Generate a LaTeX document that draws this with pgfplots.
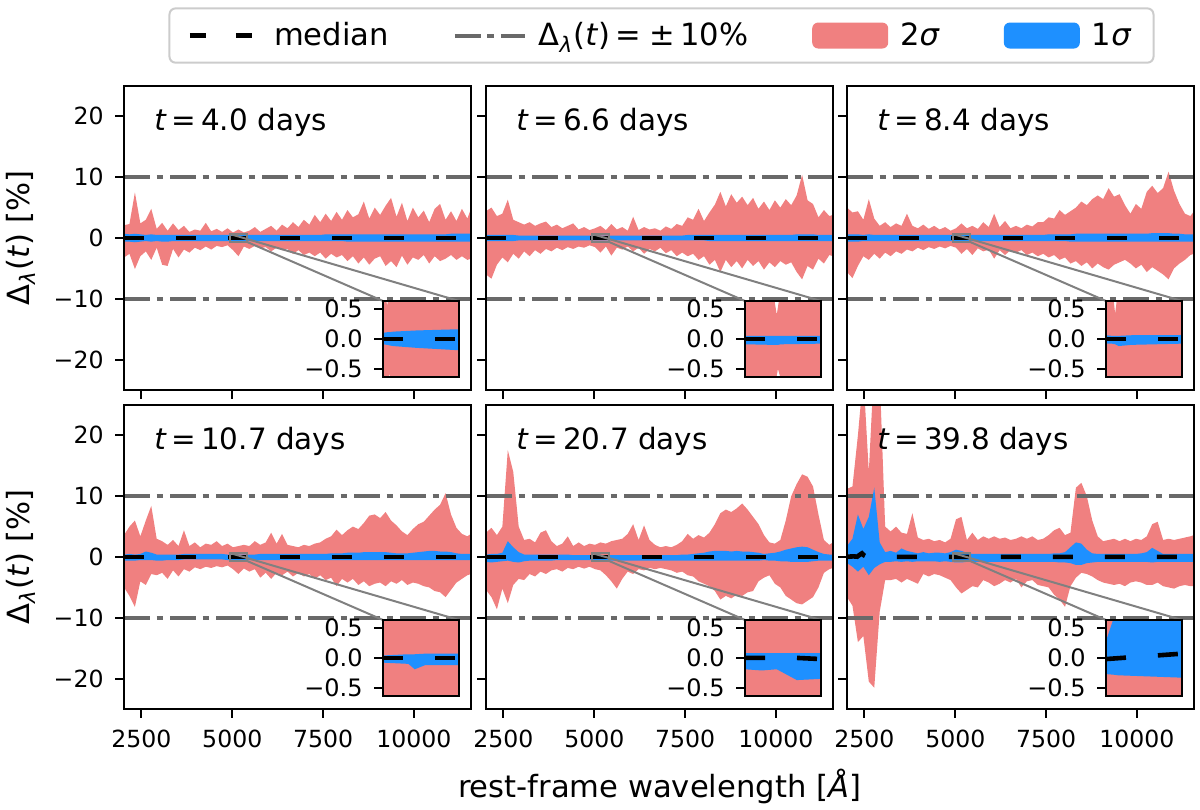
\documentclass[border=0pt]{standalone}
\usepackage{fontspec}
\setmainfont{DejaVu Sans}
\usepackage{pgfplots}
\pgfplotsset{compat=1.18}
\usepackage{pgfplotstable}
\usepgfplotslibrary{fillbetween}

\definecolor{ctwo}{RGB}{240,128,128}
\definecolor{cone}{RGB}{30,144,255}
\definecolor{dg}{RGB}{105,105,105}
\definecolor{cg}{RGB}{128,128,128}
\definecolor{lg}{RGB}{204,204,204}

% ---------------- main panel data: x, 2sigma upper/lower, 1sigma upper/lower
\pgfplotstableread{
x u2 l2 u1 l1
2020 2.1 -3.2 0.7 -0.6
2170 2.3 -2.6 0.6 -0.6
2320 7.5 -5.1 0.7 -0.7
2470 2.4 -3.0 0.6 -0.6
2620 3.0 -2.2 0.5 -0.5
2770 4.8 -3.6 0.6 -0.6
2920 1.5 -1.6 0.5 -0.5
3070 2.5 -4.4 0.5 -0.6
3220 1.2 -4.6 0.5 -0.6
3370 2.4 -1.8 0.5 -0.5
3520 1.3 -3.2 0.5 -0.5
3670 2.0 -1.9 0.5 -0.5
3820 1.0 -2.4 0.5 -0.5
3970 1.4 -1.6 0.5 -0.5
4120 1.2 -2.0 0.5 -0.5
4270 2.5 -1.4 0.5 -0.5
4420 1.1 -1.9 0.5 -0.5
4570 1.5 -1.3 0.5 -0.5
4720 1.0 -1.5 0.5 -0.5
4870 1.6 -1.2 0.5 -0.5
5020 0.9 -2.0 0.5 -0.5
5170 1.4 -3.0 0.5 -0.5
5320 0.9 -1.4 0.5 -0.5
5470 1.2 -1.8 0.5 -0.5
5620 1.8 -1.3 0.5 -0.5
5770 1.0 -1.7 0.5 -0.5
5920 1.5 -1.5 0.5 -0.5
6070 2.0 -2.2 0.5 -0.5
6220 1.2 -1.6 0.5 -0.5
6370 2.2 -2.0 0.5 -0.5
6520 1.6 -1.8 0.5 -0.5
6670 2.6 -2.6 0.5 -0.5
6820 1.8 -2.0 0.5 -0.5
6970 3.0 -2.8 0.5 -0.5
7120 2.2 -2.4 0.5 -0.5
7270 3.8 -3.0 0.5 -0.5
7420 2.6 -2.4 0.5 -0.5
7570 4.0 -3.4 0.6 -0.5
7720 2.8 -2.6 0.6 -0.5
7870 4.3 -3.2 0.6 -0.5
8020 3.0 -2.8 0.6 -0.5
8170 4.6 -3.8 0.6 -0.6
8320 3.4 -3.0 0.6 -0.6
8470 3.9 -4.2 0.6 -0.6
8620 6.0 -3.2 0.6 -0.6
8770 3.2 -4.4 0.6 -0.6
8920 5.0 -3.4 0.6 -0.6
9070 3.8 -3.0 0.6 -0.6
9220 5.3 -4.6 0.6 -0.6
9370 6.6 -3.8 0.6 -0.6
9520 3.5 -4.8 0.6 -0.6
9670 5.8 -2.9 0.6 -0.6
9820 2.8 -4.4 0.6 -0.6
9970 5.0 -3.2 0.6 -0.6
10120 3.4 -3.6 0.6 -0.6
10270 4.5 -2.8 0.6 -0.6
10420 2.6 -4.2 0.6 -0.6
10570 4.8 -3.0 0.6 -0.6
10720 5.6 -3.8 0.6 -0.6
10870 3.0 -3.4 0.6 -0.6
11020 4.4 -2.8 0.7 -0.6
11170 2.8 -3.6 0.7 -0.6
11320 4.8 -3.0 0.7 -0.6
11470 3.2 -3.6 0.7 -0.6
11570 4.8 -3.4 0.7 -0.6
}\tA

\pgfplotstableread{
x u2 l2 u1 l1
2020 4.4 -6.0 0.5 -0.5
2170 5.0 -6.7 0.5 -0.5
2320 3.6 -4.4 0.5 -0.5
2470 4.0 -3.2 0.5 -0.5
2620 6.3 -4.0 0.5 -0.5
2770 3.0 -2.6 0.5 -0.5
2920 2.6 -3.4 0.4 -0.4
3070 2.2 -2.2 0.4 -0.4
3220 2.6 -3.0 0.4 -0.4
3370 2.0 -2.0 0.4 -0.4
3520 2.4 -2.6 0.4 -0.4
3670 2.7 -1.8 0.4 -0.4
3820 1.8 -2.2 0.4 -0.4
3970 2.2 -1.6 0.4 -0.4
4120 1.6 -2.0 0.4 -0.4
4270 2.0 -1.5 0.4 -0.4
4420 2.4 -1.8 0.4 -0.4
4570 1.4 -1.4 0.4 -0.4
4720 1.8 -1.6 0.4 -0.4
4870 1.3 -1.2 0.4 -0.4
5020 1.6 -1.5 0.4 -0.4
5170 2.0 -2.4 0.4 -0.4
5320 1.3 -1.4 0.4 -0.4
5470 2.3 -2.9 0.4 -0.4
5620 1.4 -1.6 0.4 -0.4
5770 1.8 -1.9 0.4 -0.4
5920 1.2 -1.4 0.4 -0.4
6070 3.5 -2.2 0.4 -0.4
6220 1.3 -1.6 0.4 -0.4
6370 1.8 -2.6 0.4 -0.4
6520 1.4 -1.8 0.4 -0.4
6670 1.6 -2.2 0.4 -0.4
6820 1.2 -1.6 0.4 -0.4
6970 1.9 -2.5 0.4 -0.4
7120 1.5 -2.0 0.4 -0.4
7270 2.3 -3.0 0.4 -0.4
7420 2.0 -2.4 0.4 -0.4
7570 3.4 -3.0 0.5 -0.4
7720 3.0 -2.6 0.5 -0.4
7870 4.8 -3.6 0.5 -0.4
8020 2.8 -3.0 0.5 -0.4
8170 4.2 -4.4 0.5 -0.5
8320 5.5 -3.6 0.5 -0.5
8470 7.6 -5.6 0.5 -0.5
8620 5.2 -3.6 0.5 -0.5
8770 7.2 -4.8 0.5 -0.5
8920 5.8 -3.8 0.5 -0.5
9070 6.8 -5.0 0.5 -0.5
9220 5.4 -3.6 0.5 -0.5
9370 6.6 -4.6 0.5 -0.5
9520 4.8 -3.8 0.5 -0.5
9670 6.0 -5.2 0.5 -0.5
9820 4.6 -4.0 0.5 -0.5
9970 6.2 -4.8 0.5 -0.5
10120 5.0 -3.8 0.5 -0.5
10270 6.4 -4.4 0.5 -0.5
10420 5.4 -4.0 0.5 -0.5
10570 7.0 -5.6 0.6 -0.5
10720 10.4 -6.8 0.6 -0.5
10870 6.2 -4.6 0.6 -0.5
11020 5.6 -5.2 0.6 -0.5
11170 3.4 -3.4 0.5 -0.5
11320 4.6 -4.2 0.5 -0.5
11470 3.6 -2.8 0.5 -0.5
11570 3.8 -3.0 0.5 -0.5
}\tB

\pgfplotstableread{
x u2 l2 u1 l1
2020 5.0 -5.6 0.6 -0.6
2170 4.2 -6.6 0.6 -0.6
2320 4.4 -4.6 0.6 -0.6
2470 3.0 -3.0 0.5 -0.5
2620 6.4 -3.6 0.6 -0.5
2770 3.2 -2.6 0.5 -0.5
2920 2.0 -3.4 0.5 -0.5
3070 2.6 -2.4 0.5 -0.5
3220 1.8 -3.0 0.5 -0.5
3370 2.4 -2.2 0.5 -0.5
3520 2.0 -2.6 0.5 -0.5
3670 4.0 -1.9 0.5 -0.5
3820 2.0 -2.2 0.5 -0.5
3970 1.6 -1.6 0.5 -0.5
4120 2.2 -2.0 0.5 -0.5
4270 1.5 -1.5 0.5 -0.5
4420 2.0 -1.8 0.5 -0.5
4570 1.4 -1.4 0.5 -0.5
4720 1.8 -1.7 0.5 -0.5
4870 1.2 -1.3 0.5 -0.5
5020 1.6 -1.6 0.5 -0.5
5170 2.4 -2.6 0.5 -0.5
5320 1.6 -1.8 0.5 -0.5
5470 2.0 -2.8 0.5 -0.5
5620 1.5 -1.7 0.5 -0.5
5770 2.6 -2.2 0.5 -0.5
5920 1.8 -1.9 0.5 -0.5
6070 4.0 -3.4 0.5 -0.5
6220 1.8 -2.0 0.5 -0.5
6370 2.8 -2.8 0.5 -0.5
6520 1.6 -2.0 0.5 -0.5
6670 2.0 -2.4 0.5 -0.5
6820 1.6 -2.0 0.5 -0.5
6970 2.2 -2.8 0.5 -0.5
7120 1.9 -2.4 0.5 -0.5
7270 2.6 -3.0 0.5 -0.5
7420 2.6 -2.6 0.5 -0.5
7570 3.4 -3.2 0.6 -0.5
7720 3.2 -2.8 0.6 -0.5
7870 4.6 -3.6 0.6 -0.5
8020 3.8 -3.2 0.6 -0.5
8170 4.4 -4.2 0.6 -0.6
8320 5.0 -3.8 0.7 -0.6
8470 6.0 -4.6 0.7 -0.6
8620 5.4 -4.0 0.7 -0.6
8770 6.4 -5.0 0.7 -0.6
8920 7.0 -4.2 0.7 -0.6
9070 6.4 -4.8 0.7 -0.6
9220 8.2 -5.2 0.7 -0.6
9370 6.8 -4.4 0.7 -0.6
9520 7.2 -4.0 0.7 -0.6
9670 5.4 -3.6 0.7 -0.6
9820 4.0 -4.2 0.7 -0.6
9970 5.6 -5.0 0.7 -0.6
10120 4.8 -4.4 0.7 -0.6
10270 7.6 -5.6 0.7 -0.6
10420 8.6 -4.8 0.8 -0.6
10570 7.4 -5.4 0.8 -0.6
10720 8.2 -6.0 0.8 -0.6
10870 10.9 -6.8 0.8 -0.6
11020 7.8 -5.0 0.7 -0.6
11170 5.6 -4.2 0.7 -0.6
11320 4.0 -3.6 0.6 -0.6
11470 3.6 -2.8 0.6 -0.6
11570 4.4 -2.6 0.6 -0.6
}\tC

\pgfplotstableread{
x u2 l2 u1 l1
2020 3.6 -5.0 0.4 -0.6
2170 5.0 -6.4 0.5 -0.6
2320 6.0 -8.2 0.4 -0.6
2470 3.4 -4.0 0.5 -0.5
2620 6.0 -4.6 0.9 -0.5
2770 8.4 -2.8 0.7 -0.5
2920 3.0 -3.0 0.4 -0.6
3070 2.6 -2.6 0.4 -0.6
3220 2.0 -3.6 0.4 -0.5
3370 2.8 -2.2 0.4 -0.5
3520 1.8 -3.2 0.4 -0.5
3670 4.4 -2.0 0.5 -0.4
3820 1.8 -2.4 0.5 -0.4
3970 2.4 -1.7 0.5 -0.4
4120 1.6 -2.0 0.5 -0.4
4270 2.2 -1.6 0.5 -0.4
4420 2.0 -1.8 0.5 -0.4
4570 2.6 -1.5 0.5 -0.4
4720 1.8 -1.7 0.5 -0.4
4870 2.2 -1.4 0.4 -0.5
5020 1.6 -2.0 0.4 -0.5
5170 1.8 -2.8 0.4 -0.5
5320 2.0 -1.9 0.4 -0.5
5470 1.8 -2.4 0.4 -0.5
5620 2.6 -2.0 0.4 -0.5
5770 2.0 -3.4 0.5 -0.5
5920 2.4 -2.6 0.5 -0.5
6070 4.0 -3.6 0.5 -0.5
6220 2.2 -2.6 0.5 -0.5
6370 3.8 -3.0 0.5 -0.5
6520 2.0 -2.4 0.5 -0.5
6670 1.8 -3.2 0.5 -0.5
6820 1.6 -2.6 0.5 -0.5
6970 2.0 -3.2 0.5 -0.5
7120 1.8 -2.8 0.5 -0.5
7270 2.2 -3.6 0.5 -0.5
7420 2.4 -3.0 0.5 -0.5
7570 3.0 -3.8 0.5 -0.5
7720 3.4 -3.4 0.6 -0.5
7870 4.5 -4.8 0.6 -0.5
8020 3.6 -3.6 0.6 -0.5
8170 4.4 -4.2 0.7 -0.5
8320 5.0 -3.6 0.7 -0.5
8470 4.6 -4.6 0.7 -0.5
8620 5.6 -4.0 0.8 -0.5
8770 6.8 -4.8 0.8 -0.5
8920 7.0 -4.4 0.8 -0.5
9070 6.4 -4.2 0.8 -0.5
9220 7.4 -4.8 0.8 -0.5
9370 6.0 -4.0 0.7 -0.5
9520 5.2 -4.4 0.6 -0.5
9670 4.2 -3.8 0.6 -0.5
9820 3.6 -4.6 0.6 -0.5
9970 4.6 -4.2 0.7 -0.5
10120 5.4 -4.4 0.8 -0.5
10270 5.8 -4.8 0.9 -0.5
10420 6.8 -5.0 1.0 -0.5
10570 7.8 -5.6 1.0 -0.5
10720 8.6 -5.8 0.9 -0.5
10870 10.5 -6.6 0.9 -0.5
11020 7.0 -5.4 0.8 -0.5
11170 4.8 -4.2 0.6 -0.5
11320 3.8 -3.6 0.5 -0.5
11470 3.4 -3.0 0.5 -0.5
11570 3.8 -2.8 0.5 -0.5
}\tD

\pgfplotstableread{
x u2 l2 u1 l1
2020 4.0 -5.4 0.4 -0.8
2170 4.8 -6.6 0.5 -0.9
2320 3.6 -8.6 0.5 -0.8
2470 5.0 -5.2 0.7 -0.7
2620 17.6 -7.6 2.6 -0.6
2770 14.0 -4.6 1.6 -0.8
2920 5.0 -3.6 0.8 -0.9
3070 2.8 -3.8 0.4 -0.7
3220 3.0 -2.8 0.4 -0.6
3370 2.4 -3.2 0.4 -0.6
3520 4.0 -2.4 0.4 -0.6
3670 4.4 -2.8 0.4 -0.6
3820 2.6 -2.2 0.4 -0.6
3970 1.8 -2.0 0.4 -0.5
4120 2.2 -2.4 0.4 -0.5
4270 3.4 -1.8 0.4 -0.5
4420 1.8 -2.0 0.3 -0.5
4570 2.4 -1.6 0.3 -0.5
4720 1.8 -1.9 0.3 -0.5
4870 2.2 -1.6 0.3 -0.5
5020 2.0 -2.0 0.3 -0.5
5170 2.4 -2.2 0.3 -0.6
5320 2.2 -3.0 0.3 -0.6
5470 2.6 -4.0 0.3 -0.6
5620 2.8 -5.2 0.3 -0.6
5770 3.0 -3.6 0.3 -0.6
5920 3.8 -2.4 0.3 -0.6
6070 5.4 -2.8 0.3 -0.6
6220 2.8 -2.0 0.3 -0.6
6370 5.2 -2.2 0.3 -0.6
6520 2.8 -1.8 0.3 -0.6
6670 2.0 -2.0 0.3 -0.6
6820 1.6 -1.8 0.3 -0.6
6970 1.8 -2.0 0.3 -0.6
7120 1.6 -2.2 0.3 -0.6
7270 2.0 -2.6 0.3 -0.6
7420 2.6 -2.4 0.4 -0.6
7570 3.8 -3.0 0.4 -0.6
7720 3.0 -3.2 0.5 -0.6
7870 3.6 -4.0 0.6 -0.6
8020 3.2 -4.4 0.7 -0.6
8170 4.0 -4.8 0.9 -0.6
8320 5.4 -5.6 1.0 -0.6
8470 7.2 -7.0 1.0 -0.6
8620 7.8 -6.4 1.0 -0.6
8770 7.4 -6.8 0.9 -0.6
8920 8.0 -6.2 1.0 -0.6
9070 8.8 -6.4 0.9 -0.6
9220 7.8 -5.8 0.9 -0.6
9370 6.6 -5.6 0.8 -0.6
9520 5.4 -4.0 0.7 -0.6
9670 3.6 -3.4 0.5 -0.5
9820 2.4 -3.0 0.6 -0.6
9970 2.2 -4.4 0.7 -0.6
10120 2.8 -5.0 0.9 -0.7
10270 6.0 -6.4 1.2 -0.7
10420 10.0 -7.0 1.4 -0.8
10570 12.0 -7.6 1.6 -0.8
10720 13.6 -7.8 1.7 -0.8
10870 13.2 -7.2 1.6 -0.8
11020 11.6 -6.6 1.2 -0.7
11170 7.0 -5.0 0.8 -0.6
11320 2.8 -2.6 0.5 -0.6
11470 2.0 -2.0 0.4 -0.6
11570 2.4 -1.8 0.4 -0.6
}\tE

\pgfplotstableread{
x u2 l2 u1 l1
2020 11.2 -6.6 1.8 -1.0
2170 11.6 -8.0 3.0 -1.6
2320 20.0 -14.0 7.0 -2.4
2470 30.0 -13.0 4.6 -1.6
2620 14.0 -20.5 6.6 -3.0
2770 32.0 -21.5 11.4 -1.8
2920 30.0 -9.0 2.4 -1.2
3070 5.0 -3.8 0.8 -0.8
3220 4.2 -3.8 1.0 -0.8
3370 5.0 -3.6 0.7 -0.7
3520 4.0 -4.2 1.4 -0.8
3670 3.8 -3.6 1.0 -0.7
3820 7.2 -4.0 0.8 -0.8
3970 3.2 -4.4 0.6 -0.7
4120 2.8 -2.8 0.8 -0.7
4270 3.0 -3.2 0.6 -0.7
4420 2.6 -2.8 0.7 -0.7
4570 2.8 -3.0 0.7 -0.8
4720 2.4 -3.4 0.6 -0.7
4870 3.0 -3.8 0.8 -0.8
5020 6.2 -5.0 1.2 -0.9
5170 6.6 -6.0 1.0 -0.9
5320 2.8 -5.4 0.7 -0.8
5470 4.0 -4.8 0.5 -0.8
5620 2.8 -5.0 0.5 -0.8
5770 3.4 -3.8 0.5 -0.8
5920 3.0 -4.2 0.5 -0.8
6070 3.4 -4.8 0.5 -0.8
6220 3.0 -4.4 0.5 -0.8
6370 3.2 -3.8 0.5 -0.8
6520 2.8 -4.2 0.5 -0.8
6670 3.0 -3.6 0.5 -0.8
6820 3.4 -5.0 0.5 -0.8
6970 3.0 -4.0 0.5 -0.8
7120 3.4 -3.8 0.5 -0.8
7270 2.8 -4.6 0.5 -0.8
7420 3.0 -4.8 0.5 -0.8
7570 3.6 -5.0 0.5 -0.8
7720 4.4 -6.2 0.6 -0.8
7870 4.8 -7.0 0.6 -0.9
8020 3.6 -8.2 0.8 -0.9
8170 4.0 -4.8 1.6 -1.0
8320 11.4 -3.4 2.4 -1.3
8470 12.2 -2.6 2.2 -1.3
8620 10.0 -2.8 1.2 -1.0
8770 6.0 -3.2 0.6 -0.9
8920 3.4 -3.8 0.5 -0.8
9070 2.6 -4.2 0.5 -0.8
9220 2.8 -4.4 0.5 -0.8
9370 3.0 -4.6 0.5 -0.8
9520 2.6 -4.4 0.5 -0.8
9670 3.0 -4.8 0.5 -0.8
9820 2.6 -4.2 0.5 -0.8
9970 3.0 -4.0 0.5 -0.8
10120 2.8 -4.2 0.6 -0.8
10270 3.4 -4.6 0.8 -0.8
10420 5.4 -4.6 1.5 -0.9
10570 5.8 -4.2 1.0 -0.8
10720 2.8 -4.8 0.5 -0.8
10870 3.0 -5.0 0.5 -0.8
11020 2.8 -5.2 0.5 -0.8
11170 3.0 -4.8 0.5 -0.8
11320 3.2 -4.6 0.5 -0.8
11470 3.4 -4.8 0.5 -0.8
11570 3.6 -4.8 0.5 -0.8
}\tF

% ---------------- inset data (zoom on 4950-5400)
\pgfplotstableread{
x u2 l2 u1 l1
4950 0.9 -0.9 0.10 -0.09
4975 0.55 -0.9 0.11 -0.10
4990 0.9 -0.57 0.11 -0.11
5010 0.9 -0.9 0.12 -0.12
5150 0.9 -0.9 0.14 -0.15
5400 0.9 -0.9 0.16 -0.19
}\iA
\pgfplotstableread{
x u2 l2 u1 l1
4950 0.9 -0.9 0.05 -0.09
5110 0.9 -0.9 0.05 -0.10
5120 0.72 -0.9 0.05 -0.10
5138 0.40 -0.61 0.05 -0.10
5145 0.53 -0.50 0.05 -0.10
5165 0.9 -0.70 0.05 -0.09
5175 0.9 -0.9 0.05 -0.09
5400 0.9 -0.9 0.05 -0.08
}\iB
\pgfplotstableread{
x u2 l2 u1 l1
4950 0.9 -0.9 0.06 -0.08
4985 0.9 -0.9 0.05 -0.08
5004 0.42 -0.9 0.05 -0.09
5025 0.9 -0.9 0.05 -0.12
5100 0.9 -0.9 0.06 -0.10
5400 0.9 -0.9 0.06 -0.08
}\iC
\pgfplotstableread{
x u2 l2 u1 l1
4950 0.9 -0.9 0.04 -0.08
5100 0.9 -0.9 0.06 -0.10
5138 0.9 -0.9 0.06 -0.19
5200 0.9 -0.9 0.07 -0.12
5400 0.9 -0.9 0.07 -0.12
}\iD
\pgfplotstableread{
x u2 l2 u1 l1
4950 0.9 -0.9 0.08 -0.19
5049 0.9 -0.9 0.08 -0.21
5138 0.9 -0.9 0.08 -0.19
5257 0.9 -0.9 0.08 -0.37
5400 0.9 -0.9 0.08 -0.35
}\iE
\pgfplotstableread{
x u2 l2 u1 l1
4950 0.9 -0.9 0.28 -0.27
4994 0.9 -0.9 0.65 -0.28
5020 0.9 -0.9 0.9 -0.29
5400 0.9 -0.9 0.9 -0.33
}\iF

\pgfplotsset{
  medline/.style={black, line width=2.3pt, dash pattern=on 10pt off 16pt, forget plot},
  tenline/.style={dg, line width=2pt, dash pattern=on 13pt off 3.3pt on 3.4pt off 3.3pt, forget plot},
  legline/.style={legend image code/.code={\draw[##1] (0pt,0pt) -- (35pt,0pt);}},
  legpatch/.style={legend image code/.code={\fill[##1] (0pt,-6.5pt) rectangle (38pt,6.5pt);}},
}

\newcommand{\bands}[1]{%
  \addplot[draw=none, name path=U2, forget plot] table[x=x,y=u2]{#1};
  \addplot[draw=none, name path=L2, forget plot] table[x=x,y=l2]{#1};
  \addplot[fill=ctwo, draw=none, forget plot] fill between[of=U2 and L2];
  \addplot[draw=none, name path=U1, forget plot] table[x=x,y=u1]{#1};
  \addplot[draw=none, name path=L1, forget plot] table[x=x,y=l1]{#1};
  \addplot[fill=cone, draw=none, forget plot] fill between[of=U1 and L1];
}
\newcommand{\tenlines}{%
  \addplot[tenline] coordinates {(2020,10) (11570,10)};
  \addplot[tenline] coordinates {(2020,-10) (11570,-10)};
}
\newcommand{\zoommark}{%
  \draw[cg, line width=1pt] (axis cs:4950,-0.63) rectangle (axis cs:5400,0.63);
  \coordinate (ZA) at (axis cs:4950,0.63);
  \coordinate (ZB) at (axis cs:5400,-0.63);
}
\newcommand{\plabel}[1]{%
  \node[anchor=base west, font=\fontsize{14.7pt}{17pt}\selectfont, inner sep=0pt] at (rel axis cs:0.0865,0.852) {#1};
}

\pgfplotsset{
  panel/.style={
    scale only axis, width=173.5pt, height=152pt,
    xmin=2020, xmax=11570, ymin=-25, ymax=25,
    anchor=north west,
    axis on top,
    axis line style={line width=1pt},
    every tick/.style={black, line width=1pt},
    major tick length=4.5pt,
    tick align=outside, tick pos=left,
    scaled ticks=false,
    xtick={2500,5000,7500,10000},
    ytick={-20,-10,0,10,20},
    tick label style={font=\fontsize{11.8pt}{14pt}\selectfont},
    xticklabel style={yshift=-2.4pt},
    yticklabel style={xshift=-2.2pt},
    label style={font=\fontsize{15.3pt}{18pt}\selectfont},
    no markers,
  },
  inset/.style={
    scale only axis, width=38pt, height=38pt,
    xmin=4950, xmax=5400, ymin=-0.635, ymax=0.63,
    anchor=south west,
    axis on top,
    axis background/.style={fill=white},
    axis line style={line width=1pt},
    every tick/.style={black, line width=1pt},
    major tick length=4.5pt,
    tick align=outside, ytick pos=left,
    scaled ticks=false,
    xtick=\empty,
    ytick={-0.5,0,0.5},
    yticklabels={−0.5,0.0,0.5},
    tick label style={font=\fontsize{12pt}{14pt}\selectfont},
    yticklabel style={xshift=-2.2pt},
    no markers,
  },
  leftcol/.style={yticklabels={−20,−10,0,10,20},
    ylabel={Δ\textsubscript{\textit{λ}}(\textit{t}) [\%]},
    ylabel style={at={(axis description cs:-0.297,0.5)}, anchor=center}},
  otherrow/.style={yticklabels={,,,,}},
  toprow/.style={xticklabels={,,,}},
  botrow/.style={xticklabels={2500,5000,7500,10000}},
}

\begin{document}
\begin{tikzpicture}
% ===== Panel 1
\begin{axis}[panel, leftcol, toprow, at={(62pt,-43pt)},
  legend columns=4,
  legend style={at={(1.549,1.166)}, anchor=center, draw=lg, line width=1pt,
    rounded corners=3pt, font=\fontsize{15.3pt}{18pt}\selectfont,
    inner xsep=9pt, inner ysep=5pt,
    /tikz/every even column/.append style={column sep=30pt},
    /tikz/every odd column/.append style={column sep=4pt}},
  legend cell align=left]
\addlegendimage{black, line width=2.3pt, dash pattern=on 8pt off 15pt, legline}
\addlegendentry{median}
\addlegendimage{dg, line width=2pt, dash pattern=on 13pt off 3.3pt on 3.4pt off 3.3pt, legline}
\addlegendentry{Δ\textsubscript{\textit{λ}}(\textit{t})\,=\;±\,10\%}
\addlegendimage{fill=ctwo, draw=none, legpatch}
\addlegendentry{2\textit{σ}}
\addlegendimage{fill=cone, draw=none, legpatch}
\addlegendentry{1\textit{σ}}
\bands{\tA}
\tenlines
\addplot[medline] coordinates {(2020,0) (11570,0)};
\plabel{\textit{t}\,=\,4.0 days}
\zoommark
\end{axis}
\begin{axis}[inset, at={(191.5pt,-188.5pt)}, name=iA]
\bands{\iA}
\addplot[medline] coordinates {(4950,0) (5400,0)};
\end{axis}
\draw[cg, line width=1pt] (ZA) -- (iA.north east);
\draw[cg, line width=1pt] (ZB) -- (iA.north west);

% ===== Panel 2
\begin{axis}[panel, otherrow, toprow, at={(243pt,-43pt)}]
\bands{\tB}
\tenlines
\addplot[medline] coordinates {(2020,0) (11570,0)};
\plabel{\textit{t}\,=\,6.6 days}
\zoommark
\end{axis}
\begin{axis}[inset, at={(372.5pt,-188.5pt)}, name=iB]
\bands{\iB}
\addplot[medline] coordinates {(4950,0) (5400,0)};
\end{axis}
\draw[cg, line width=1pt] (ZA) -- (iB.north east);
\draw[cg, line width=1pt] (ZB) -- (iB.north west);

% ===== Panel 3
\begin{axis}[panel, otherrow, toprow, at={(423.5pt,-43pt)}]
\bands{\tC}
\tenlines
\addplot[medline] coordinates {(2020,0) (11570,0)};
\plabel{\textit{t}\,=\,8.4 days}
\zoommark
\end{axis}
\begin{axis}[inset, at={(553pt,-188.5pt)}, name=iC]
\bands{\iC}
\addplot[medline] coordinates {(4950,0) (5400,0)};
\end{axis}
\draw[cg, line width=1pt] (ZA) -- (iC.north east);
\draw[cg, line width=1pt] (ZB) -- (iC.north west);

% ===== Panel 4
\begin{axis}[panel, leftcol, botrow, at={(62pt,-202.5pt)}]
\bands{\tD}
\tenlines
\addplot[medline] coordinates {(2020,0) (11570,0)};
\plabel{\textit{t}\,=\,10.7 days}
\zoommark
\end{axis}
\begin{axis}[inset, at={(191.5pt,-348pt)}, name=iD]
\bands{\iD}
\addplot[medline] coordinates {(4950,0) (5400,0)};
\end{axis}
\draw[cg, line width=1pt] (ZA) -- (iD.north east);
\draw[cg, line width=1pt] (ZB) -- (iD.north west);

% ===== Panel 5
\begin{axis}[panel, otherrow, botrow, at={(243pt,-202.5pt)},
  xlabel={rest-frame wavelength [\textit{Å}]},
  xlabel style={at={(axis description cs:0.5,-0.254)}, anchor=center}]
\bands{\tE}
\tenlines
\addplot[medline] coordinates {(2020,0) (11570,0)};
\plabel{\textit{t}\,=\,20.7 days}
\zoommark
\end{axis}
\begin{axis}[inset, at={(372.5pt,-348pt)}, name=iE]
\bands{\iE}
\addplot[medline] coordinates {(4950,0) (5250,0) (5400,-0.02)};
\end{axis}
\draw[cg, line width=1pt] (ZA) -- (iE.north east);
\draw[cg, line width=1pt] (ZB) -- (iE.north west);

% ===== Panel 6
\begin{axis}[panel, otherrow, botrow, at={(423.5pt,-202.5pt)}]
\bands{\tF}
\tenlines
\addplot[medline] coordinates {(2020,0.05) (2200,0.1) (2300,0.05) (2380,0.4) (2430,0.6) (2480,0.3) (2560,0.05) (3000,0.02) (11570,0.03)};
\plabel{\textit{t}\,=\,39.8 days}
\zoommark
\end{axis}
\begin{axis}[inset, at={(553pt,-348pt)}, name=iF]
\bands{\iF}
\addplot[medline] coordinates {(4950,-0.02) (5400,0.07)};
\end{axis}
\draw[cg, line width=1pt] (ZA) -- (iF.north east);
\draw[cg, line width=1pt] (ZB) -- (iF.north west);

\pgfresetboundingbox
\path[use as bounding box] (0pt,0pt) rectangle (600pt,-404.5pt);
\end{tikzpicture}
\end{document}
